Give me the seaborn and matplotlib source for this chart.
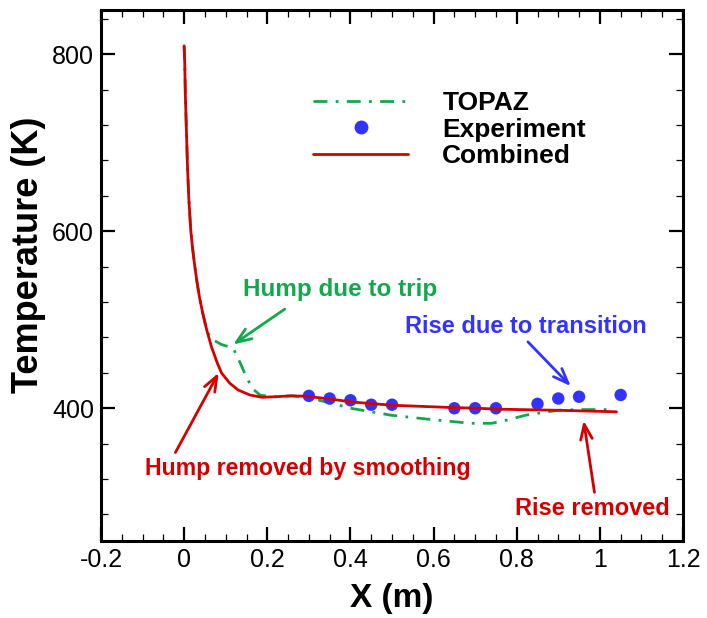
import numpy as np
import pandas as pd
import matplotlib
matplotlib.use("Agg")
import matplotlib.pyplot as plt
import seaborn as sns
from matplotlib.lines import Line2D
from matplotlib.ticker import MultipleLocator

# ---------------- data ----------------
combined_x = [0.0, 0.0014, 0.003, 0.0054, 0.0078, 0.011, 0.0158, 0.0198, 0.0246, 0.0302,
              0.0366, 0.0447, 0.0543, 0.0655, 0.080, 0.0904, 0.110, 0.130, 0.158, 0.187,
              0.22, 0.254, 0.293, 0.35, 0.405, 0.5, 0.644, 0.707, 0.748, 0.9, 1.04]
combined_T = [809.5, 790.5, 752.7, 715, 677, 639, 601.6, 582.8, 564, 545,
              526, 507.5, 488.5, 469.7, 450.8, 439.5, 428.2, 420.6, 415, 412.4,
              413, 414, 413.6, 410.5, 407, 403.4, 400.8, 400, 399, 397.7, 396]

topaz_x = [0.0, 0.0014, 0.003, 0.0054, 0.0078, 0.011, 0.0158, 0.0198, 0.0246, 0.0302,
           0.0366, 0.0447, 0.0543, 0.063, 0.09, 0.118, 0.135, 0.15, 0.165, 0.183,
           0.22, 0.26, 0.3, 0.325, 0.405, 0.5, 0.6, 0.69, 0.74, 0.78, 0.82, 0.86,
           0.9, 0.95, 1.02]
topaz_T = [809.5, 790.5, 752.7, 715, 677, 639, 601.6, 582.8, 564, 545,
           526, 507.5, 488.5, 479, 472, 468, 451, 435, 422, 414.7,
           413, 414, 412, 409, 399.6, 392, 387, 383, 383, 387, 392, 395,
           397.7, 398.5, 398.5]

exp_x = [0.3, 0.35, 0.4, 0.45, 0.5, 0.65, 0.7, 0.75, 0.85, 0.9, 0.95, 1.05]
exp_T = [414, 411, 409, 404, 404, 400, 400, 400, 405, 411, 413, 415]

x_ticks = [-0.2, 0, 0.2, 0.4, 0.6, 0.8, 1.0, 1.2]
x_tick_labels = ["-0.2", "0", "0.2", "0.4", "0.6", "0.8", "1", "1.2"]
y_ticks = [400, 600, 800]
series_names = ["TOPAZ", "Experiment", "Combined"]

GREEN = "#12a84c"
BLUE = "#3333ff"
RED = "#d40000"

# ---------------- style ----------------
sns.set_theme(style="ticks")
plt.rcParams["font.family"] = ["Liberation Sans", "DejaVu Sans"]
for k in ["text.color", "axes.labelcolor", "xtick.color", "ytick.color", "axes.edgecolor"]:
    plt.rcParams[k] = "black"

fig = plt.figure(figsize=(7.07, 6.18), dpi=100)
ax = fig.add_axes([101 / 707, 1 - 541 / 618, (683 - 101) / 707, (541 - 10) / 618])

df_topaz = pd.DataFrame({"x": topaz_x, "T": topaz_T})
df_comb = pd.DataFrame({"x": combined_x, "T": combined_T})
df_exp = pd.DataFrame({"x": exp_x, "T": exp_T})

sns.lineplot(data=df_topaz, x="x", y="T", ax=ax, sort=False, estimator=None,
             color=GREEN, linewidth=2.0, linestyle=(0, (5, 3, 1, 3)), zorder=2)
sns.lineplot(data=df_comb, x="x", y="T", ax=ax, sort=False, estimator=None,
             color=RED, linewidth=2.0, zorder=4)
sns.scatterplot(data=df_exp, x="x", y="T", ax=ax, color=BLUE, s=80,
                edgecolor="none", zorder=3)

ax.set_xlim(-0.2, 1.2)
ax.set_ylim(250, 850)
ax.set_xticks(x_ticks)
ax.set_xticklabels(x_tick_labels)
ax.set_yticks(y_ticks)
ax.xaxis.set_minor_locator(MultipleLocator(0.05))
ax.yaxis.set_minor_locator(MultipleLocator(40))
ax.tick_params(which="both", direction="in", top=True, right=True, colors="black")
ax.tick_params(which="major", length=10, width=1.6, labelsize=18, pad=5)
ax.tick_params(which="minor", length=5, width=0.9)
for s in ax.spines.values():
    s.set_linewidth(2.2)
    s.set_color("black")

ax.set_xlabel("X (m)", fontsize=24, fontweight="bold", labelpad=8)
ax.set_ylabel("Temperature (K)", fontsize=26, fontweight="bold")
ax.yaxis.set_label_coords((46 - 101) / 582, (541 - 255) / 531)

# legend
handles = [
    Line2D([], [], color=GREEN, linewidth=2.0, linestyle=(0, (5, 3, 1, 3))),
    Line2D([], [], color=BLUE, marker="o", markersize=9, linestyle="none"),
    Line2D([], [], color=RED, linewidth=2.0),
]
leg = ax.legend(handles, series_names, loc="upper left",
                bbox_to_anchor=((313 - 101) / 582, (541 - 91) / 531),
                frameon=False, borderpad=0, borderaxespad=0,
                handlelength=3.6, handletextpad=1.3, labelspacing=0.1,
                prop={"size": 19, "weight": "bold"})
for t in leg.get_texts():
    t.set_color("black")

# annotations
arrow_kw = dict(arrowstyle="->,head_length=0.9,head_width=0.35", lw=2.0,
                shrinkA=0, shrinkB=0)
ax.text(0.376, 534, "Hump due to trip", color=GREEN, fontsize=17.5,
        fontweight="bold", ha="center", va="center")
ax.annotate("", xy=(0.118, 472), xytext=(0.242, 512),
            arrowprops=dict(color=GREEN, **arrow_kw))

ax.text(0.298, 332, "Hump removed by smoothing", color=RED, fontsize=16.7,
        fontweight="bold", ha="center", va="center")
ax.annotate("", xy=(0.083, 440), xytext=(-0.021, 350),
            arrowprops=dict(color=RED, **arrow_kw))

ax.text(0.821, 492, "Rise due to transition", color=BLUE, fontsize=17,
        fontweight="bold", ha="center", va="center")
ax.annotate("", xy=(0.930, 425), xytext=(0.827, 475),
            arrowprops=dict(color=BLUE, **arrow_kw))

ax.text(0.981, 287, "Rise removed", color=RED, fontsize=17,
        fontweight="bold", ha="center", va="center")
ax.annotate("", xy=(0.961, 386), xytext=(0.987, 305),
            arrowprops=dict(color=RED, **arrow_kw))

fig.savefig("out.png", dpi=100)
